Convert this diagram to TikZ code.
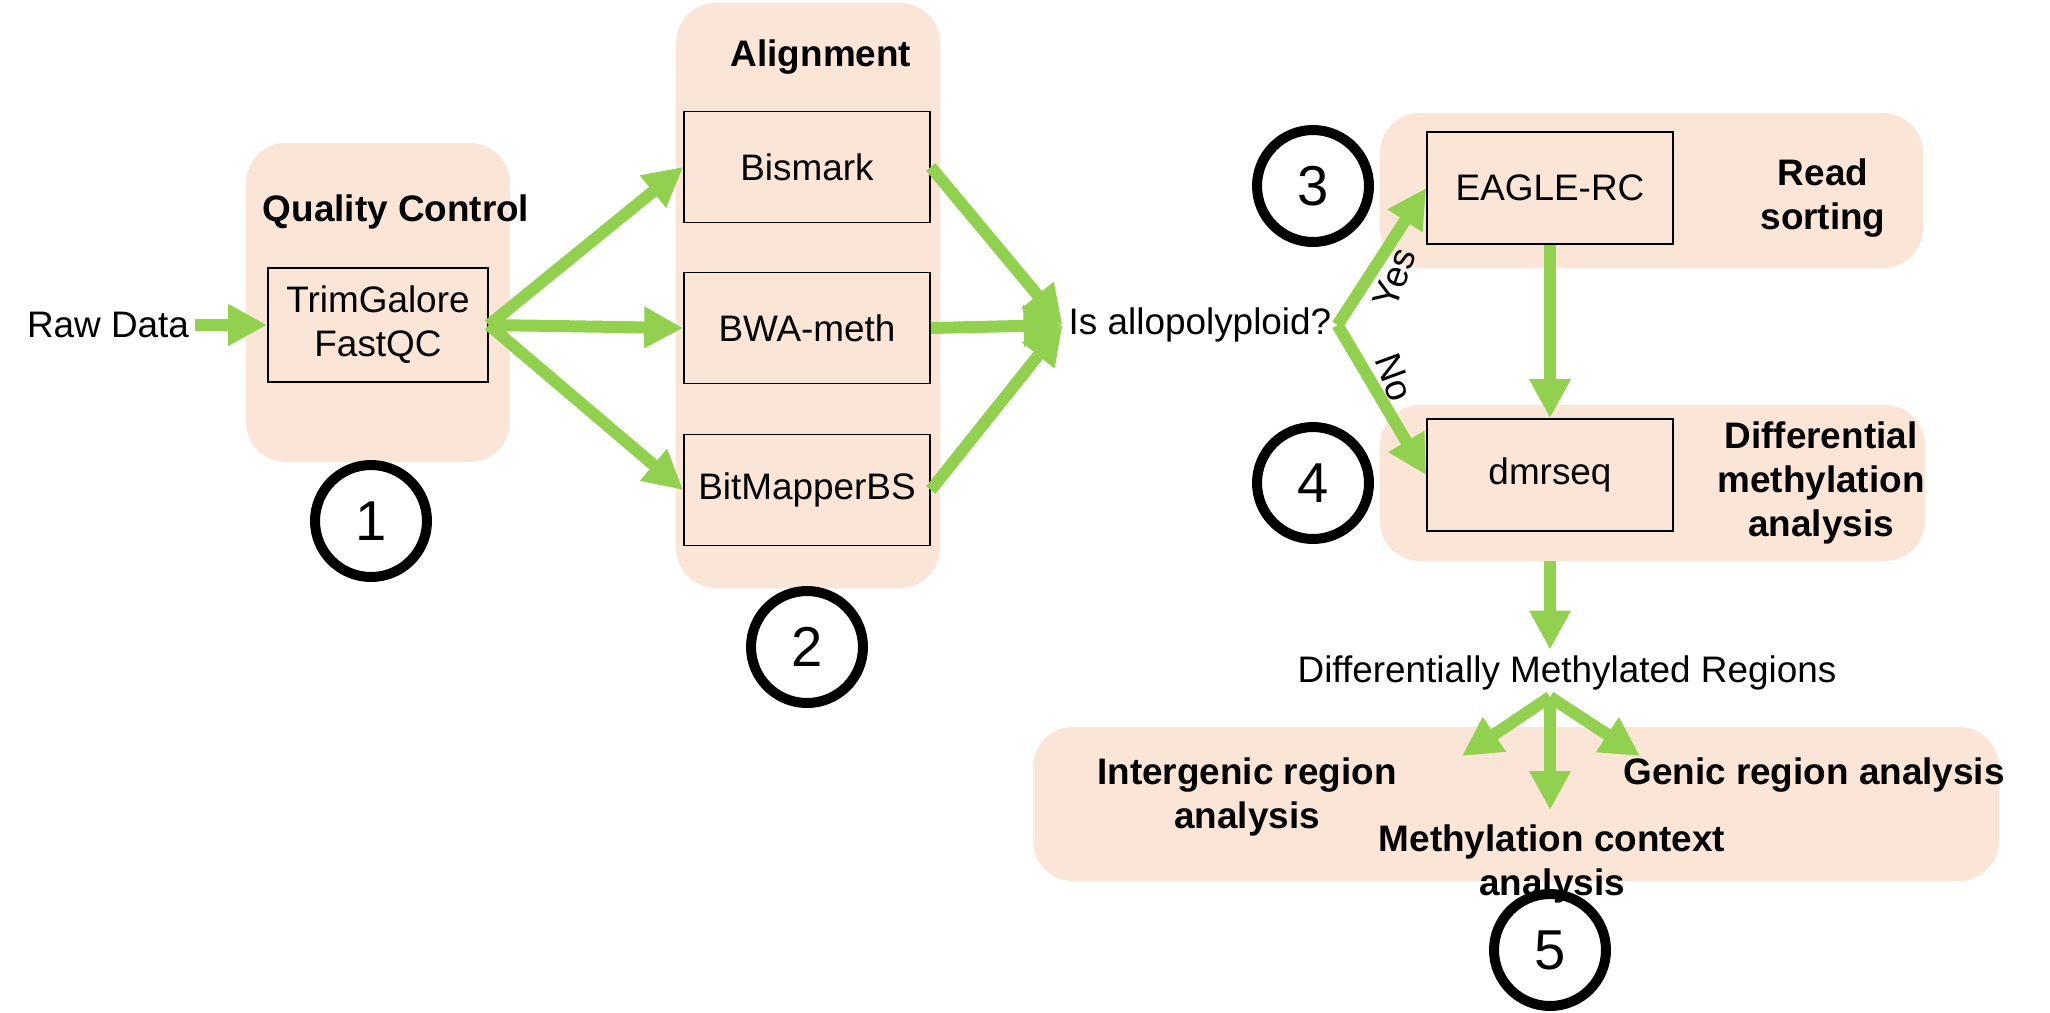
\documentclass[tikz,border=0pt]{standalone}
\usepackage{fontspec}
\setmainfont{Liberation Sans}
\usepackage{tikz}
\usetikzlibrary{shapes,arrows.meta,fit}
\definecolor{peach}{RGB}{251,229,214}
\definecolor{leafGreen}{RGB}{146,208,80}

\begin{document}
\begin{tikzpicture}[x=0.02cm, y=-0.02cm]%
  \tikzset{green arrow/.style={draw=leafGreen, line width=0.24cm, -{Triangle[length=0.78cm,width=0.78cm]}}}
  \tikzset{panel/.style={fill=peach, draw=none, rounded corners=0.8cm, inner sep=0pt}}
  \tikzset{tool/.style={draw=black, line width=1pt, minimum width=4.92cm, minimum height=2.22cm, inner sep=0pt}}
  \tikzset{stepnum/.style={circle, draw=black, line width=0.2cm, minimum size=2.24cm, inner sep=0pt, font=\fontsize{32}{38}\selectfont}}
  \tikzset{heading/.style={font=\fontsize{21}{25}\selectfont\bfseries}}
  \tikzstyle{every node}=[font=\fontsize{21}{25}\selectfont, align=center]

  \useasboundingbox (0,0) rectangle (2050,1012);

  \node[panel, fit={(246,143) (510,462)}] (qcpanel) {};
  \node[panel, fit={(676,3) (940,588)}] (alignpanel) {};
  \node[panel, fit={(1380,113) (1923,268)}] (sortpanel) {};
  \node[panel, fit={(1380,405) (1925,561)}] (diffpanel) {};
  \node[panel, fit={(1033,727) (1999,881)}] (regionpanel) {};

  \node (raw) at (108,325) {Raw Data};
  \node[heading] (qc) at (396,212) {Quality Control};
  \node[tool, minimum width=4.4cm, minimum height=2.28cm] (trim) at (378,325) {TrimGalore\\FastQC};
  \node[stepnum] (one) at (371,521) {1};

  \node[heading] (align) at (821,57) {Alignment};
  \node[tool] (bismark) at (807,167) {Bismark};
  \node[tool] (bwa) at (807,328) {BWA-meth};
  \node[tool] (bitmapper) at (807,490) {BitMapperBS};
  \node[stepnum] (two) at (807,647) {2};

  \node (allo) at (1200,325) {Is allopolyploid?};

  \node[tool, minimum height=2.24cm] (eagle) at (1550,188) {EAGLE-RC};
  \node[heading] (sortlabel) at (1823,198) {Read\\sorting};
  \node[stepnum] (three) at (1313,186) {3};
  \node[tool, minimum height=2.24cm] (dmrseq) at (1550,475) {dmrseq};
  \node[heading] (difflabel) at (1821,483) {Differential\\methylation\\analysis};
  \node[stepnum] (four) at (1313,483) {4};

  \node (dmr) at (1567,673) {Differentially Methylated Regions};
  \node[heading] (intergenic) at (1247,797) {Intergenic region\\analysis};
  \node[heading] (genic) at (1814,775) {Genic region analysis};
  \node[heading] (context) at (1552,864) {Methylation context\\analysis};
  \node[stepnum] (five) at (1550,950) {5};

  \coordinate (split) at (1550,697);
  \coordinate (intertip) at (1462,756);
  \coordinate (contexttip) at (1550,810);
  \coordinate (genictip) at (1640,756);

  \path[green arrow] (raw.east) -- (trim.west);
  \foreach \t in {bismark,bwa,bitmapper}
    \path[green arrow] (trim.east) -- (\t.west);
  \foreach \t in {bismark,bwa,bitmapper}
    \path[green arrow] (\t.east) -- (allo.west);
  \path[green arrow] (allo.east) -- node[pos=0.45, xshift=0.34cm, yshift=-0.3cm, rotate=70] (yes) {Yes} (eagle.west);
  \path[green arrow] (allo.east) -- node[pos=0.45, xshift=0.34cm, yshift=0.3cm, rotate=-70] (no) {No} (dmrseq.west);
  \path[green arrow] (eagle) -- (dmrseq);
  \path[green arrow] (diffpanel.south -| dmrseq) -- (dmr.north -| dmrseq);
  \foreach \t in {intertip,contexttip,genictip}
    \path[green arrow] (split) -- (\t);
\end{tikzpicture}
\end{document}
